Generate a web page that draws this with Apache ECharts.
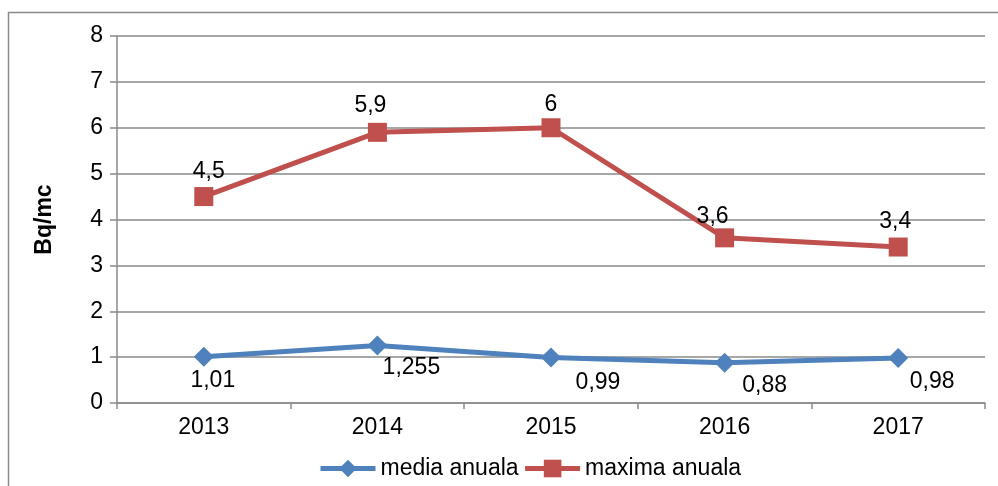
<!DOCTYPE html>
<html>
<head>
<meta charset="utf-8">
<script src="https://cdn.jsdelivr.net/npm/echarts@6/dist/echarts.min.js"></script>
<style>
  html, body { margin: 0; padding: 0; background: #fff; }
  #chart { width: 998px; height: 486px; }
</style>
</head>
<body>
<div id="chart"></div>
<script>
const years = ['2013', '2014', '2015', '2016', '2017'];
const mediaAnuala = [1.01, 1.255, 0.99, 0.88, 0.98];
const maximaAnuala = [4.5, 5.9, 6, 3.6, 3.4];
const yTicks = [0, 1, 2, 3, 4, 5, 6, 7, 8];

// label nudges (px) — the data labels were hand-placed in the original
const mediaLabelNudge = [[9, 24], [34, 22], [47, 25], [40, 23], [34, 24]];
const maximaLabelNudge = [[5, -25], [-7, -27], [0, -23], [-12, -21], [-3, -25]];

const FONT = 'Liberation Sans, Arial, sans-serif';
const GRID_GRAY = '#8a8a8a';
const FS = 23;
const fmt = (p) => String(p.value).replace('.', ',');

const withNudge = (values, nudges) =>
  values.map((v, i) => ({ value: v, label: { offset: nudges[i] } }));

const chart = echarts.init(document.getElementById('chart'), null, { renderer: 'canvas' });

chart.setOption({
  animation: false,
  textStyle: { fontFamily: FONT },
  graphic: [
    {
      type: 'polyline',
      shape: { points: [[8.5, 486], [8.5, 12.5], [998, 12.5]] },
      style: { stroke: GRID_GRAY, lineWidth: 1.5, fill: null }
    }
  ],
  grid: { left: 117, right: 13, top: 36, bottom: 83, containLabel: false },
  legend: {
    left: 313,
    top: 452,
    itemWidth: 55,
    itemHeight: 22,
    itemGap: 4,
    lineStyle: { width: 5 },
    textStyle: { fontSize: FS, color: '#000', fontFamily: FONT },
    data: ['media anuala', 'maxima anuala']
  },
  xAxis: {
    type: 'category',
    data: years,
    boundaryGap: true,
    axisLine: { lineStyle: { color: GRID_GRAY, width: 1.5 } },
    axisTick: { show: true, length: 6, interval: 0, lineStyle: { color: GRID_GRAY, width: 1.5 } },
    axisLabel: { color: '#000', fontSize: FS, margin: 13, fontFamily: FONT }
  },
  yAxis: {
    type: 'value',
    min: yTicks[0],
    max: yTicks[yTicks.length - 1],
    interval: 1,
    name: 'Bq/mc',
    nameLocation: 'middle',
    nameGap: 61,
    nameTextStyle: { fontSize: FS, fontWeight: 'bold', color: '#000', fontFamily: FONT },
    axisLine: { show: true, lineStyle: { color: GRID_GRAY, width: 1.5 } },
    axisTick: { show: true, length: 7, lineStyle: { color: GRID_GRAY, width: 1.5 } },
    axisLabel: { color: '#000', fontSize: FS, margin: 14, fontFamily: FONT },
    splitLine: { show: true, lineStyle: { color: GRID_GRAY, width: 1.5 } }
  },
  series: [
    {
      name: 'media anuala',
      type: 'line',
      data: withNudge(mediaAnuala, mediaLabelNudge),
      symbol: 'diamond',
      symbolSize: 20,
      lineStyle: { color: '#4F81BD', width: 5 },
      itemStyle: { color: '#4F81BD' },
      label: {
        show: true,
        position: 'inside',
        formatter: fmt,
        color: '#000',
        fontSize: FS,
        fontFamily: FONT
      },
      z: 3
    },
    {
      name: 'maxima anuala',
      type: 'line',
      data: withNudge(maximaAnuala, maximaLabelNudge),
      symbol: 'rect',
      symbolSize: 19,
      lineStyle: { color: '#C0504D', width: 5 },
      itemStyle: { color: '#C0504D' },
      label: {
        show: true,
        position: 'inside',
        formatter: fmt,
        color: '#000',
        fontSize: FS,
        fontFamily: FONT
      },
      z: 3
    }
  ]
});
</script>
</body>
</html>
